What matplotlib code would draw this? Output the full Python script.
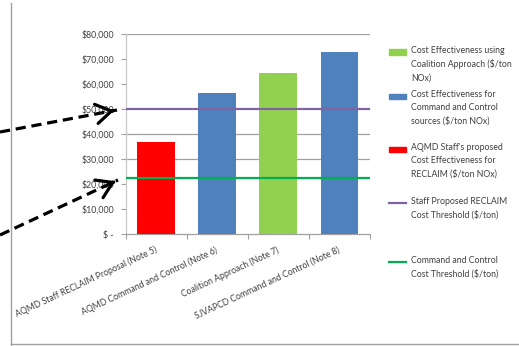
import matplotlib
matplotlib.use("Agg")
import matplotlib.pyplot as plt
from matplotlib.lines import Line2D
from matplotlib.patches import Rectangle, FancyArrowPatch
import numpy as np

# ---- data ----
categories = [
    "AQMD Staff RECLAIM Proposal (Note 5)",
    "AQMD Command and Control (Note 6)",
    "Coalition Approach (Note 7)",
    "SJVAPCD Command and Control (Note 8)",
]
cost_values = [37000, 56400, 64600, 72800]
bar_colors = ["#FF0000", "#4F81BD", "#92D050", "#4F81BD"]
reclaim_threshold = 50000
cac_threshold = 22600
y_ticks = [0, 10000, 20000, 30000, 40000, 50000, 60000, 70000, 80000]
grid_values = [30000, 40000, 80000]

legend_labels = [
    "Cost Effectiveness using\nCoalition Approach ($/ton\nNOx)",
    "Cost Effectiveness for\nCommand and Control\nsources ($/ton NOx)",
    "AQMD Staff's proposed\nCost Effectiveness for\nRECLAIM ($/ton NOx)",
    "Staff Proposed RECLAIM\nCost Threshold ($/ton)",
    "Command and Control\nCost Threshold ($/ton)",
]

W, H = 519, 346
FONT = "Lato"
TXT = "#404040"
GRAY = "#A0A0A0"


def fp(x, y):
    """pixel position measured from the top-left corner -> figure fraction"""
    return (x / W, 1 - y / H)


fig = plt.figure(figsize=(W / 100, H / 100), dpi=100)
ax = fig.add_axes([125.7 / W, 1 - 234.3 / H, 244.3 / W, 200 / H])

x = np.arange(len(categories))
ax.bar(x, cost_values, width=0.62, color=bar_colors, zorder=3)

ax.axhline(reclaim_threshold, color="#8064A2", lw=1.6, zorder=4)
ax.axhline(cac_threshold, color="#00B050", lw=1.6, zorder=4)
for g in grid_values:
    ax.axhline(g, color=GRAY, lw=0.9, zorder=1)

ax.set_xlim(-0.5, len(categories) - 0.5)
ax.set_ylim(0, 80000)

ax.set_yticks(y_ticks)
ax.set_yticklabels(["$ -" if v == 0 else f"${v:,.0f}" for v in y_ticks])
ax.tick_params(axis="y", length=3.5, width=0.8, color=GRAY, pad=5,
               labelsize=6.3, labelcolor=TXT)
for t in ax.get_yticklabels():
    t.set_family(FONT)

ax.set_xticks(x)
ax.set_xticklabels(categories, rotation=25, ha="right", va="center",
                   rotation_mode="anchor", family=FONT, fontsize=6.2, color=TXT)
ax.tick_params(axis="x", which="major", length=0, pad=11)
ax.set_xticks(np.arange(-0.5, len(categories)), minor=True)
ax.tick_params(axis="x", which="minor", length=3.5, width=0.8, color=GRAY)

for side in ["top", "right"]:
    ax.spines[side].set_visible(False)
ax.spines["left"].set_color("#C8C8C8")
ax.spines["bottom"].set_color(GRAY)
ax.spines["left"].set_linewidth(0.9)
ax.spines["bottom"].set_linewidth(0.9)

# ---- legend drawn on the figure ----
patch_x0, patch_x1, text_x = 389, 406, 411
legend_rows = [52, 96, 149, 203, 262]
legend_kinds = [("patch", "#92D050"), ("patch", "#4F81BD"), ("patch", "#FF0000"),
                ("line", "#8064A2"), ("line", "#00B050")]
for label, yrow, (kind, col) in zip(legend_labels, legend_rows, legend_kinds):
    if kind == "patch":
        x0, y0 = fp(patch_x0, yrow + 2.5)
        fig.add_artist(Rectangle((x0, y0), (patch_x1 - patch_x0) / W, 5 / H,
                                 transform=fig.transFigure, color=col))
    else:
        a, b = fp(patch_x0, yrow), fp(patch_x1, yrow)
        fig.add_artist(Line2D([a[0], b[0]], [a[1], b[1]], color=col, lw=1.6,
                              transform=fig.transFigure))
    tx, ty = fp(text_x, yrow - 6)
    fig.text(tx, ty, label, family=FONT, fontsize=6.3, color=TXT,
             va="top", ha="left", linespacing=1.55)

# ---- frame lines ----
a, b = fp(11, 3), fp(11, 345)
fig.add_artist(Line2D([a[0], b[0]], [a[1], b[1]], color=GRAY, lw=1,
                      transform=fig.transFigure))
a, b = fp(11, 344), fp(519, 344)
fig.add_artist(Line2D([a[0], b[0]], [a[1], b[1]], color=GRAY, lw=1,
                      transform=fig.transFigure))

# ---- dashed pointer arrows ----
for start, tip in [((0, 132), (117, 110)), ((0, 235), (118, 180))]:
    s, t = fp(*start), fp(*tip)
    fig.add_artist(Line2D([s[0], t[0]], [s[1], t[1]], color="black", lw=2.3,
                          linestyle=(0, (3.2, 1.8)), transform=fig.transFigure))
    dx, dy = tip[0] - start[0], tip[1] - start[1]
    n = np.hypot(dx, dy)
    back = fp(tip[0] - 8 * dx / n, tip[1] - 8 * dy / n)
    fig.add_artist(FancyArrowPatch(back, t, transform=fig.transFigure,
                                   arrowstyle="->,head_length=0.55,head_width=0.35",
                                   mutation_scale=20, lw=2.3, color="black"))

fig.savefig("out.png", dpi=100)
